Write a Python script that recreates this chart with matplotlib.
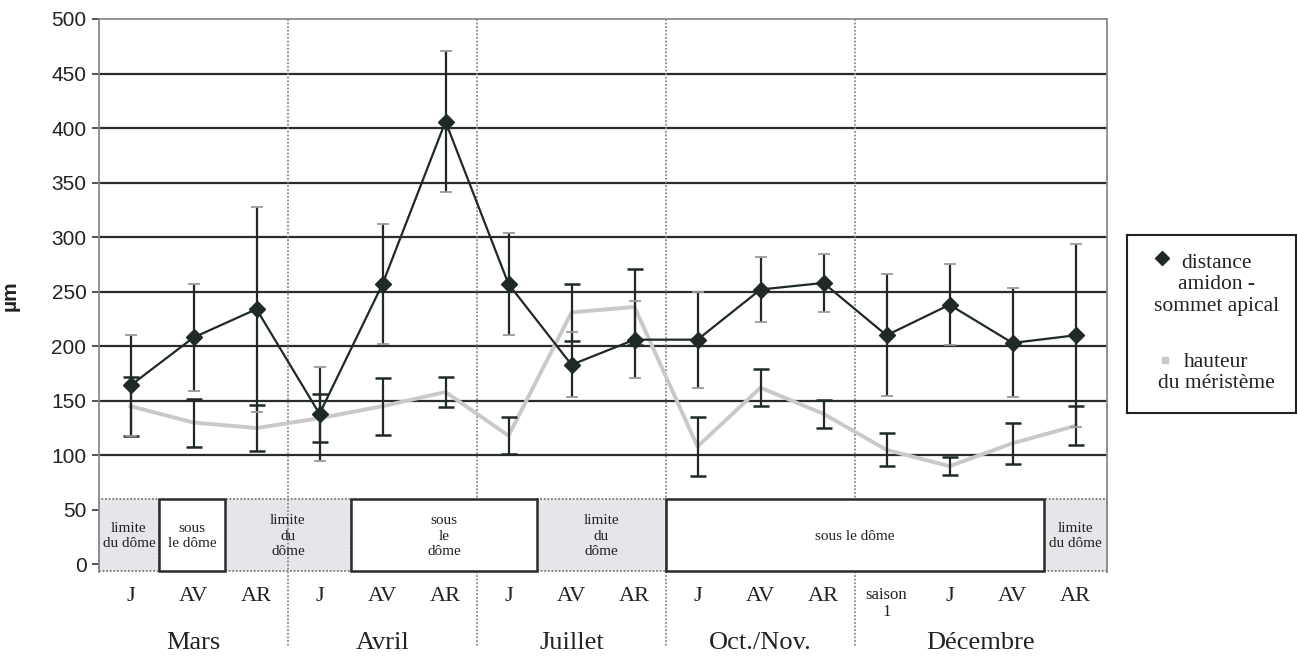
import numpy as np
import matplotlib.pyplot as plt
from matplotlib.patches import Rectangle
import matplotlib.transforms as mtransforms

# data
months = ['Mars', 'Avril', 'Juillet', 'Oct./Nov.', 'Décembre']
month_sizes = [3, 3, 3, 3, 4]
stages = ['J', 'AV', 'AR', 'J', 'AV', 'AR', 'J', 'AV', 'AR',
          'J', 'AV', 'AR', 'saison\n1', 'J', 'AV', 'AR']

distance = [164, 208, 234, 138, 257, 406, 257, 183, 206, 206, 252, 258, 210, 238, 203, 210]
distance_err = [46, 49, 94, 43, 55, 65, 47, 30, 35, 44, 30, 27, 56, 37, 50, 84]
hauteur = [145, 130, 125, 134, 145, 158, 118, 231, 236, 108, 162, 138, 105, 90, 111, 127]
hauteur_err = [27, 22, 21, 22, 26, 14, 17, 26, 35, 27, 17, 13, 15, 8, 19, 18]

zone_labels = ['limite\ndu dôme', 'sous\nle dôme', 'limite\ndu\ndôme', 'sous\nle\ndôme',
               'limite\ndu\ndôme', 'sous le dôme', 'limite\ndu dôme']
zone_edges = [-0.5, 0.45, 1.5, 3.5, 6.45, 8.5, 14.5, 15.5]
zone_shaded = [True, False, True, False, True, False, True]

serif = 'Liberation Serif'
sans = 'Liberation Sans'
dark = '#1f2a28'
light = '#c9c9c9'

fig = plt.figure(figsize=(12.97, 6.57), dpi=100)
ax = fig.add_axes([99/1297, 85/657, 1008/1297, 553/657])
x = np.arange(len(stages))

ax.set_xlim(-0.5, len(stages) - 0.5)
ax.set_ylim(-7, 500)

# horizontal grid
for yv in range(100, 500, 50):
    ax.axhline(yv, color='#2b2b2b', lw=1.6, zorder=1)

# month separators, running down into the label area
trans = mtransforms.blended_transform_factory(ax.transData, ax.transAxes)
bounds = np.cumsum(month_sizes)[:-1] - 0.5
for b in bounds:
    ax.plot([b, b], [1, -0.136], transform=trans, color='#8a8a8a', lw=1.3,
            ls=(0, (1, 1)), clip_on=False, zorder=2)

# zone boxes at the bottom
for i, lab in enumerate(zone_labels):
    x0, x1 = zone_edges[i], zone_edges[i + 1]
    if zone_shaded[i]:
        r = Rectangle((x0, -6.5), x1 - x0, 66, facecolor='#e5e6e9', edgecolor='#7a7a7a',
                      lw=1.3, ls=(0, (1, 1)), zorder=1.5, clip_on=False)
    else:
        r = Rectangle((x0, -6.5), x1 - x0, 66, facecolor='white', edgecolor='#2b2b2b',
                      lw=1.8, zorder=3, clip_on=False)
    ax.add_patch(r)
    ax.text((x0 + x1) / 2, 26, lab, ha='center', va='center', fontsize=11,
            family=serif, color='#222', linespacing=1.25, zorder=4)

# hauteur du méristème
ax.plot(x, hauteur, color=light, lw=2.8, zorder=4)
ax.errorbar(x, hauteur, yerr=hauteur_err, fmt='none', ecolor=dark, elinewidth=1.6,
            capsize=5.5, capthick=1.8, zorder=5)

# distance amidon - sommet apical
ax.errorbar(x, distance, yerr=distance_err, fmt='none', ecolor=dark, elinewidth=1.6,
            capsize=0, zorder=5)
ax.errorbar(x, distance, yerr=distance_err, fmt='none', ecolor='#9a9a9a', elinewidth=0,
            capsize=4, capthick=1.3, zorder=5)
ax.plot(x, distance, color=dark, lw=1.6, marker='D', markersize=8.5, zorder=6)

# axes styling
for side in ['left', 'right', 'top']:
    ax.spines[side].set_color('#8a8a8a')
    ax.spines[side].set_linestyle((0, (1, 1)))
    ax.spines[side].set_linewidth(1.3)
ax.spines['bottom'].set_visible(False)

ax.set_yticks(range(0, 501, 50))
ax.tick_params(axis='y', length=5, width=1.2, color='#333', labelsize=15, labelcolor='#222', pad=4)
for t in ax.get_yticklabels():
    t.set_family(sans)

ax.set_xticks(x)
ax.set_xticklabels(stages)
ax.tick_params(axis='x', length=0, pad=11, labelsize=16, labelcolor='#222')
for t in ax.get_xticklabels():
    t.set_family(serif)
    if '\n' in t.get_text():
        t.set_fontsize(12)
        t.set_linespacing(1.1)

ax.set_ylabel('µm', family=sans, fontsize=15, fontweight='bold', color='#222')
ax.yaxis.set_label_coords(-0.079, 0.5)

starts = np.concatenate([[0], np.cumsum(month_sizes)[:-1]])
for m, s, n in zip(months, starts, month_sizes):
    ax.text(s + (n - 1) / 2, -0.128, m, transform=trans, ha='center', va='center',
            fontsize=19, family=serif, color='#222')

# legend box
lax = fig.add_axes([1127/1297, 244/657, 169/1297, 178/657])
lax.set_xlim(0, 1)
lax.set_ylim(0, 1)
lax.set_xticks([])
lax.set_yticks([])
for s in lax.spines.values():
    s.set_color('#222')
    s.set_linewidth(1.5)
lax.plot([0.21], [0.87], marker='D', color=dark, markersize=7.5)
lax.text(0.53, 0.72, 'distance\namidon -\nsommet apical', ha='center', va='center',
         fontsize=15.5, family=serif, color='#222', linespacing=1.2)
lax.plot([0.225], [0.30], marker='s', color=light, markersize=5)
lax.text(0.53, 0.225, 'hauteur\ndu méristème', ha='center', va='center',
         fontsize=15.5, family=serif, color='#222', linespacing=1.2)

fig.savefig('out.png', dpi=100)
